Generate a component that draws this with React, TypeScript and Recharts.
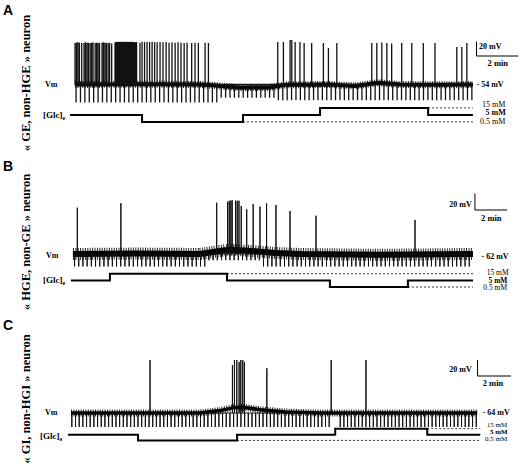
import { LineChart, Line, XAxis, YAxis } from 'recharts';

// time in minutes, Vm in mV, glucose in mM
const restA = -54;
const restB = -62;
const restC = -64;

// spikes: [time, peak mV]
const spikesA: [number, number][] = [
  [0, 4.1], [0.07, 4.1], [0.14, 5.0], [0.21, 4.1], [0.32, 3.6], [0.43, 4.1], [0.5, 4.6], [0.57, 4.1],
  [0.64, 4.1], [0.72, 3.6], [0.79, 4.1], [0.86, 4.6], [0.96, 3.6], [1.03, 4.1], [1.1, 4.1], [1.17, 3.6],
  [1.29, 4.1], [1.36, 4.6], [1.43, 4.1], [1.5, 4.1], [1.58, 3.6], [1.65, 4.1], [1.75, 3.0], [1.91, 4.6],
  [1.97, 5.0], [2.02, 5.4], [2.08, 5.0], [2.14, 5.4], [2.2, 5.4], [2.25, 5.0], [2.31, 5.4], [2.37, 5.4],
  [2.43, 5.0], [2.48, 5.4], [2.54, 5.0], [2.6, 5.4], [2.66, 5.0], [2.71, 5.4], [2.77, 5.0], [2.83, 5.0],
  [2.88, 4.6], [2.94, 5.0], [3.1, 4.1], [3.2, 5.4], [3.32, 5.0], [3.44, 5.4], [3.56, 5.0], [3.68, 5.4],
  [3.8, 5.0], [3.92, 4.6], [4.06, 5.0], [4.2, 4.6], [4.35, 5.0], [4.49, 4.1], [4.63, 4.6], [4.78, 4.1],
  [4.92, 4.6], [5.06, 4.1], [5.21, 3.6], [5.35, 4.1], [5.57, 3.6], [5.73, 4.1], [5.89, 3.6], [6.21, 4.1],
  [6.37, 3.6],
  [9.68, 5.0], [9.95, 5.0], [10.27, 7.8], [10.35, 7.8], [10.51, 5.0], [10.74, 5.0], [10.94, 3.6],
  [11.3, 3.6], [11.86, 3.6], [12.1, -3.3], [12.5, 3.6],
  [14.17, 3.6], [14.41, 3.6], [14.65, 4.2], [14.89, 3.6], [15.12, 3.0], [15.6, 3.6], [16.08, 3.6],
  [16.63, 3.6], [17.19, 3.6], [18.23, -1.9], [18.47, -1.9], [18.71, 3.6],
];
const spikesB: [number, number][] = [
  [0.27, -6.2], [2.97, -0.9], [8.9, -0.2], [9.58, 1.0], [9.68, 2.2], [9.78, 2.2], [9.86, 2.7],
  [10.07, 2.2], [10.17, 2.2], [10.28, 2.2], [10.42, -4.2], [10.76, -8.1], [11.16, -1.8], [11.58, -5.0],
  [11.99, -0.9], [12.57, -3.0], [13.44, -10.2], [15.05, -15.9], [21.18, -21.0],
];
const spikesC: [number, number][] = [
  [4.73, 2.25], [9.66, -4.0], [9.78, 2.25], [9.92, 2.25], [10.06, -0.25], [10.16, 2.25], [10.28, 2.25],
  [10.38, -0.25], [11.72, -8.1], [15.57, 2.25], [17.65, 2.25],
];

// hyperpolarizing test pulses: onset times
const pulsesA = [
  0.05, 0.26, 0.47, 0.68, 0.89, 1.1, 1.31, 1.52, 1.73, 1.94, 2.15, 2.36, 2.57, 2.78, 2.99, 3.2, 3.41,
  3.62, 3.83, 4.04, 4.25, 4.46, 4.67, 4.88, 5.09, 5.3, 5.51, 5.72, 5.93, 6.14, 6.35, 6.56, 6.77, 6.98,
  7.19, 7.4, 7.61, 7.82, 8.03, 8.24, 8.45, 8.66, 8.87, 9.08, 9.29, 9.5, 9.71, 9.92, 10.13, 10.34, 10.55,
  10.76, 10.97, 11.18, 11.39, 11.6, 11.81, 12.02, 12.23, 12.44, 12.65, 12.86, 13.07, 13.28, 13.49,
  13.7, 13.91, 14.12, 14.33, 14.54, 14.75, 14.96, 15.17, 15.38, 15.59, 15.8, 16.01, 16.22, 16.43,
  16.64, 16.85, 17.06, 17.27, 17.48, 17.69, 17.9, 18.11, 18.32, 18.53, 18.74, 18.95,
];
const pulsesB = [
  0.1, 0.36, 0.62, 0.88, 1.14, 1.4, 1.66, 1.92, 2.18, 2.44, 2.7, 2.96, 3.22, 3.48, 3.74, 4.0, 4.26,
  4.52, 4.78, 5.04, 5.3, 5.56, 5.82, 6.08, 6.34, 6.6, 6.86, 7.12, 7.38, 7.64, 7.9, 8.16, 8.42, 8.68,
  8.94, 9.2, 9.46, 9.72, 9.98, 10.24, 10.5, 10.76, 11.02, 11.28, 11.54, 11.8, 12.06, 12.32, 12.58,
  12.84, 13.1, 13.36, 13.62, 13.88, 14.14, 14.4, 14.66, 14.92, 15.18, 15.44, 15.7, 15.96, 16.22,
  16.48, 16.74, 17.0, 17.26, 17.52, 17.78, 18.04, 18.3, 18.56, 18.82, 19.08, 19.34, 19.6, 19.86,
  20.12, 20.38, 20.64, 20.9, 21.16, 21.42, 21.68, 21.94, 22.2, 22.46, 22.72, 22.98, 23.24, 23.5,
  23.76, 24.02, 24.28, 24.54,
];
const pulsesC = [
  0.05, 0.27, 0.49, 0.71, 0.93, 1.15, 1.37, 1.59, 1.81, 2.03, 2.25, 2.47, 2.69, 2.91, 3.13, 3.35,
  3.57, 3.79, 4.01, 4.23, 4.45, 4.67, 4.89, 5.11, 5.33, 5.55, 5.77, 5.99, 6.21, 6.43, 6.65, 6.87,
  7.09, 7.31, 7.53, 7.75, 7.97, 8.19, 8.41, 8.63, 8.85, 9.07, 9.29, 9.51, 9.73, 9.95, 10.17, 10.39,
  10.61, 10.83, 11.05, 11.27, 11.49, 11.71, 11.93, 12.15, 12.37, 12.59, 12.81, 13.03, 13.25, 13.47,
  13.69, 13.91, 14.13, 14.35, 14.57, 14.79, 15.01, 15.23, 15.45, 16.11, 16.33, 16.55, 16.77, 16.99,
  17.21, 17.43, 17.65, 17.87, 18.09, 18.31, 18.53, 18.75, 18.97, 19.19, 19.41, 19.63, 19.85, 20.07,
  20.29, 20.51, 20.73, 20.95, 21.17, 21.39, 21.61, 21.83, 22.05, 22.27, 22.49, 22.71, 22.93, 23.15,
  23.37, 23.59, 23.81, 24.03, 24.25,
];
// pulse bottom (mV) from a given time onward
const pulseDepthA: [number, number][] = [[0, -79], [6.8, -72.5], [9.6, -76]];
const pulseDepthB: [number, number][] = [[0, -77], [8.3, -69.5], [11.6, -77]];
const pulseDepthC: [number, number][] = [[0, -81.5]];

// slow membrane potential drift: [time, mV]
const baseA: [number, number][] = [
  [0, -54], [3.1, -53.5], [5.97, -54], [6.69, -55.5], [7.88, -58.5], [9.31, -58], [10.03, -54.5],
  [12.18, -54], [13.37, -56], [14.47, -51.5], [15.52, -54], [17.43, -54.5], [19.0, -54],
];
const baseB: [number, number][] = [
  [0, -62], [4.0, -61.5], [7.86, -62], [9.41, -57.5], [10.03, -57], [11.27, -58.8], [12.51, -60.8],
  [14.06, -62], [19.0, -63], [24.77, -62],
];
const baseC: [number, number][] = [
  [0, -64], [7.72, -64], [8.92, -61], [9.82, -57], [10.42, -57], [11.32, -60], [12.81, -62.8],
  [14.9, -64], [24.31, -64],
];

// extracellular glucose steps: [time, mM]
const glcA: [number, number][] = [[-0.24, 5], [3.2, 0.5], [8.02, 5], [11.7, 15], [16.86, 5], [19.0, 5]];
const glcB: [number, number][] = [[-0.12, 5], [2.29, 15], [9.54, 5], [15.91, 0.5], [20.74, 5], [24.77, 5]];
const glcC: [number, number][] = [[-0.18, 5], [4.01, 0.5], [9.94, 5], [15.81, 15], [21.32, 5], [24.49, 5]];

const SCALE_MV = 20;
const SCALE_MIN = 2;

const serif = '"Liberation Serif", "Times New Roman", serif';
const sans = '"Liberation Sans", Arial, sans-serif';

type Panel = {
  top: number;
  height: number;
  left: number;
  right: number;
  tDomain: [number, number];
  vDomain: [number, number];
  gMax: number;
  rest: number;
  spikes: [number, number][];
  pulses: number[];
  depth: [number, number][];
  base: [number, number][];
  glc: [number, number][];
  bar: [number, number];
  coreW: number;
  haloW: number;
  traceW: number;
};

function buildTrace(p: Panel) {
  const depthAt = (t: number) => {
    let d = p.depth[0][1];
    for (const [t0, v] of p.depth) if (t >= t0) d = v;
    return d;
  };
  const events = [
    ...p.spikes.map(([t, v]) => ({ t, v })),
    ...p.pulses.map((t) => ({ t, v: depthAt(t) })),
  ].sort((a, b) => a.t - b.t);
  const out: { t: number; v: number }[] = [];
  events.forEach((e) => {
    out.push({ t: e.t, v: p.rest }, { t: e.t, v: e.v }, { t: e.t, v: p.rest });
  });
  return out;
}

function dashedLevels(glc: [number, number][]) {
  const end = glc[glc.length - 1][0];
  return [15, 0.5]
    .map((level) => {
      const i = glc.findIndex(([, g]) => g === level);
      if (i < 0 || i + 1 >= glc.length) return null;
      return [{ t: glc[i + 1][0], g: level }, { t: end, g: level }];
    })
    .filter(Boolean) as { t: number; g: number }[][];
}

function PanelChart({ p }: { p: Panel }) {
  const trace = buildTrace(p);
  const base = p.base.map(([t, v]) => ({ t, v }));
  const glc = p.glc.map(([t, g]) => ({ t, g }));
  const [bt, bv] = p.bar;
  const bar = [
    { t: bt, v: bv + SCALE_MV },
    { t: bt, v: bv },
    { t: bt + SCALE_MIN, v: bv },
  ];
  return (
    <div style={{ position: 'absolute', left: 0, top: p.top }}>
      <LineChart width={520} height={p.height} margin={{ top: 0, right: p.right, bottom: 0, left: p.left }}>
        <XAxis type="number" dataKey="t" domain={p.tDomain} hide />
        <YAxis yAxisId="v" type="number" domain={p.vDomain} hide />
        <YAxis yAxisId="g" type="number" scale="sqrt" domain={[0, p.gMax]} hide />
        <Line yAxisId="v" data={base} dataKey="v" stroke="#000" strokeWidth={p.haloW} strokeDasharray="1 1.4"
          strokeOpacity={0.85} dot={false} activeDot={false} isAnimationActive={false} />
        <Line yAxisId="v" data={base} dataKey="v" stroke="#000" strokeWidth={p.coreW}
          dot={false} activeDot={false} isAnimationActive={false} />
        <Line yAxisId="v" data={trace} dataKey="v" stroke="#111" strokeWidth={p.traceW}
          dot={false} activeDot={false} isAnimationActive={false} />
        {dashedLevels(p.glc).map((seg, i) => (
          <Line key={i} yAxisId="g" data={seg} dataKey="g" stroke="#333" strokeWidth={1} strokeDasharray="2 2"
            dot={false} activeDot={false} isAnimationActive={false} />
        ))}
        <Line yAxisId="g" data={glc} dataKey="g" type="stepAfter" stroke="#000" strokeWidth={2}
          dot={false} activeDot={false} isAnimationActive={false} />
        <Line yAxisId="v" data={bar} dataKey="v" stroke="#000" strokeWidth={1}
          dot={false} activeDot={false} isAnimationActive={false} />
      </LineChart>
    </div>
  );
}

function Txt({ x, y, size = 8, bold = true, font = serif, children }: {
  x: number; y: number; size?: number; bold?: boolean; font?: string; children: React.ReactNode;
}) {
  return (
    <div style={{
      position: 'absolute', left: x, top: y, transform: 'translateY(-50%)', fontSize: size, lineHeight: 0.8,
      fontWeight: bold ? 700 : 400, fontFamily: font, whiteSpace: 'nowrap', color: '#000',
    }}>
      {children}
    </div>
  );
}

function Rot({ cx, cy, children }: { cx: number; cy: number; children: React.ReactNode }) {
  return (
    <div style={{
      position: 'absolute', left: cx, top: cy, transform: 'translate(-50%, -50%) rotate(-90deg)',
      fontSize: 12.5, lineHeight: 1, fontWeight: 700, fontFamily: serif, whiteSpace: 'nowrap', color: '#000',
    }}>
      {children}
    </div>
  );
}

const panels: Panel[] = [
  {
    top: 0, height: 125, left: 70, right: 1, tDomain: [-0.24, 21.2], vDomain: [-110.25, 63.4], gMax: 800,
    rest: restA, spikes: spikesA, pulses: pulsesA, depth: pulseDepthA, base: baseA, glc: glcA,
    bar: [19.17, -14.4], coreW: 4, haloW: 7, traceW: 1.3,
  },
  {
    top: 160, height: 130, left: 71, right: 11, tDomain: [-0.12, 27.0], vDomain: [-105.4, 51.25], gMax: 958,
    rest: restB, spikes: spikesB, pulses: pulsesB, depth: pulseDepthB, base: baseB, glc: glcB,
    bar: [24.89, -9], coreW: 6, haloW: 12, traceW: 1,
  },
  {
    top: 318, height: 125, left: 68, right: 7, tDomain: [-0.18, 26.45], vDomain: [-101.5, 54.75], gMax: 1141,
    rest: restC, spikes: spikesC, pulses: pulsesC, depth: pulseDepthC, base: baseC, glc: glcC,
    bar: [24.33, -17.75], coreW: 3.5, haloW: 7, traceW: 1,
  },
];

const Glc = () => (
  <span>[Glc]<sub style={{ fontSize: 6, verticalAlign: 'baseline', position: 'relative', top: 2 }}>e</sub></span>
);

export default function App() {
  return (
    <div style={{ position: 'absolute', left: 0, top: 0, width: 520, height: 464, background: '#fff', overflow: 'hidden' }}>
      {panels.map((p, i) => <PanelChart key={i} p={p} />)}

      <Txt x={3} y={10.5} size={14} font={sans}>A</Txt>
      <Rot cx={25.5} cy={82.5}>« GE, non-HGE » neuron</Rot>
      <Txt x={45} y={85}>Vm</Txt>
      <Txt x={43} y={116} size={9}><Glc /></Txt>
      <Txt x={476.5} y={84.5}>- 54 mV</Txt>
      <Txt x={479} y={47.3}>20 mV</Txt>
      <Txt x={487.5} y={63} size={8.5}>2 min</Txt>
      <Txt x={482} y={105.3} size={8} bold={false}>15 mM</Txt>
      <Txt x={485.5} y={113} size={8}>5 mM</Txt>
      <Txt x={480} y={121.5} size={8} bold={false}>0.5 mM</Txt>

      <Txt x={3} y={166.5} size={14} font={sans}>B</Txt>
      <Rot cx={25.5} cy={241.5}>« HGE, non-GE » neuron</Rot>
      <Txt x={46} y={256}>Vm</Txt>
      <Txt x={43} y={281} size={9}><Glc /></Txt>
      <Txt x={481.5} y={256.7}>- 62 mV</Txt>
      <Txt x={449.3} y={205}>20 mV</Txt>
      <Txt x={481} y={218.3} size={8.5}>2 min</Txt>
      <Txt x={486.7} y={273} size={7.5} bold={false}>15 mM</Txt>
      <Txt x={488.5} y={280.5} size={7.5}>5 mM</Txt>
      <Txt x={483.3} y={288} size={7.5} bold={false}>0.5 mM</Txt>

      <Txt x={3} y={326} size={14} font={sans}>C</Txt>
      <Rot cx={25.5} cy={399}>« GI, non-HGI » neuron</Rot>
      <Txt x={45} y={413}>Vm</Txt>
      <Txt x={40} y={436.7} size={9}><Glc /></Txt>
      <Txt x={482.7} y={412.7}>- 64 mV</Txt>
      <Txt x={449.3} y={370}>20 mV</Txt>
      <Txt x={482.7} y={383.3} size={8.5}>2 min</Txt>
      <Txt x={486.7} y={426} size={7} bold={false}>15 mM</Txt>
      <Txt x={490} y={433} size={7}>5 mM</Txt>
      <Txt x={485} y={440} size={7} bold={false}>0.5 mM</Txt>
    </div>
  );
}
